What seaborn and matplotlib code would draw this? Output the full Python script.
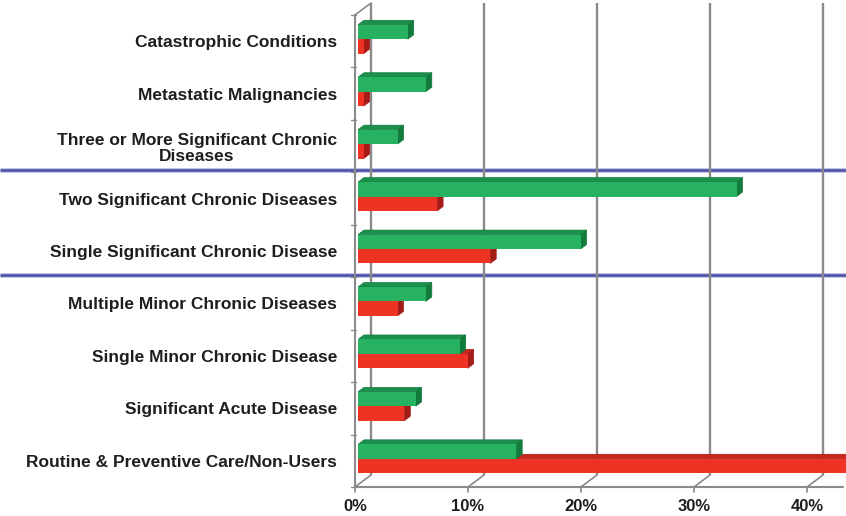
import matplotlib
matplotlib.use("Agg")
import matplotlib.pyplot as plt
import matplotlib.transforms as mtrans
from matplotlib.patches import Polygon
import seaborn as sns
import pandas as pd

# ---- data -------------------------------------------------------------
categories = [
    "Catastrophic Conditions",
    "Metastatic Malignancies",
    "Three or More Significant Chronic\nDiseases",
    "Two Significant Chronic Diseases",
    "Single Significant Chronic Disease",
    "Multiple Minor Chronic Diseases",
    "Single Minor Chronic Disease",
    "Significant Acute Disease",
    "Routine & Preventive Care/Non-Users",
]
pct_cost = [4.4, 6.0, 3.5, 33.5, 19.7, 6.0, 9.0, 5.1, 14.0]
pct_members = [0.5, 0.5, 0.5, 7.0, 11.7, 3.5, 9.7, 4.1, 46.0]
series_names = ["Share of cost", "Share of members"]
x_ticks = [0, 10, 20, 30, 40]
x_tick_labels = ["0%", "10%", "20%", "30%", "40%"]
group_breaks = [2.5, 4.5]

df = pd.DataFrame({
    "category": categories * 2,
    "series": [series_names[0]] * len(categories) + [series_names[1]] * len(categories),
    "value": pct_cost + pct_members,
})

# ---- style ------------------------------------------------------------
sns.set_theme(style="white")
plt.rcParams["font.family"] = ["Liberation Sans", "DejaVu Sans"]

GREEN, GREEN_TOP, GREEN_SIDE = "#27b262", "#1b8f4c", "#137a3d"
RED, RED_TOP, RED_SIDE = "#ee3224", "#c9261d", "#a41b18"
GRID = "#8a8a8a"
TEXT = "#1e1e1e"

W, H = 846, 516
fig = plt.figure(figsize=(W / 100, H / 100), dpi=100)

# background layer in pixel coordinates for the 3-D frame
deco = fig.add_axes([0, 0, 1, 1], zorder=0)
deco.set_xlim(0, W)
deco.set_ylim(H, 0)
deco.axis("off")

# bar plane
left, right, top, bottom = 358, 846, 13, 485
ax = fig.add_axes([left / W, (H - bottom) / H, (right - left) / W, (bottom - top) / H], zorder=1)
ax.patch.set_alpha(0)

sns.barplot(data=df, x="value", y="category", hue="series", hue_order=series_names,
            order=categories, orient="h", palette=[GREEN, RED], saturation=1,
            width=0.55, legend=False, ax=ax)

px_per_pct = 11.3
ax.set_xlim(0, (right - left) / px_per_pct)
ax.set_ylim(len(categories) - 0.5, -0.5)
ax.set_xlabel("")
ax.set_ylabel("")
for s in ax.spines.values():
    s.set_visible(False)

# ---- 3-D faces on each bar -------------------------------------------
o = ax.transData.transform((0, 0))
ppx = ax.transData.transform((1, 0))[0] - o[0]
ppy = ax.transData.transform((0, 1))[1] - o[1]
dx = 6.0 / ppx
dy = 4.5 / ppy

face_cols = [(GREEN_TOP, GREEN_SIDE), (RED_TOP, RED_SIDE)]
z_base = [4, 2]
for cont, (ctop, cside), zb in zip(ax.containers, face_cols, z_base):
    for p in cont.patches:
        p.set_zorder(zb + 0.5)
        p.set_edgecolor("none")
        x0, yt = p.get_x(), p.get_y()
        x1, yb = x0 + p.get_width(), yt + p.get_height()
        topf = Polygon([(x0, yt), (x1, yt), (x1 + dx, yt + dy), (x0 + dx, yt + dy)],
                       closed=True, facecolor=ctop, edgecolor=cside, lw=0.5, zorder=zb)
        side = Polygon([(x1, yt), (x1, yb), (x1 + dx, yb + dy), (x1 + dx, yt + dy)],
                       closed=True, facecolor=cside, edgecolor=cside, lw=0.5, zorder=zb)
        ax.add_patch(topf)
        ax.add_patch(side)

# ---- frame: front plane, back wall, floor ----------------------------
blend = mtrans.blended_transform_factory(ax.transData, ax.transAxes)


def px(xd, ya, off):
    X, Y = blend.transform((xd, ya))
    return X + off[0], H - Y + off[1]


FRONT = (-3, 2)
BACK = (13, -10)
xmax = ax.get_xlim()[1]

# back wall gridlines
for xv in x_ticks:
    (a, b), (c, d) = px(xv, 1, BACK), px(xv, 0, BACK)
    deco.plot([a, c], [b, d], color=GRID, lw=1.7, solid_capstyle="butt", zorder=3)
    # floor slant and tick
    (e, f), (g, h) = px(xv, 0, FRONT), px(xv, 0, BACK)
    deco.plot([e, g], [f, h], color=GRID, lw=1.2, zorder=3)
    deco.plot([e, e], [f, f + 5], color=GRID, lw=1.2, zorder=3)

# front vertical axis, top slant, front floor line
(a, b), (c, d) = px(0, 1, FRONT), px(0, 0, FRONT)
deco.plot([a, c], [b, d], color=GRID, lw=1.5, zorder=3)
(e, f) = px(0, 1, BACK)
deco.plot([a, e], [b, f], color=GRID, lw=1.2, zorder=3)
(g, h) = px(xmax, 0, FRONT)
deco.plot([c, g], [d, h], color=GRID, lw=1.5, zorder=3)

# row separator ticks on the front axis
for k in range(len(categories) + 1):
    yv = k / len(categories)
    (a, b) = px(0, yv, FRONT)
    deco.plot([a - 4, a + 1], [b, b], color=GRID, lw=1.0, zorder=3)

# group divider lines across the full width
for yb_ in group_breaks:
    Y = H - ax.transData.transform((0, yb_))[1]
    deco.plot([0, W], [Y, Y], color="#b9bce2", lw=3.4, solid_capstyle="butt", zorder=2)
    deco.plot([0, W], [Y, Y], color="#4a4fa6", lw=1.8, solid_capstyle="butt", zorder=2)

# ---- tick labels ------------------------------------------------------
ax.set_xticks(x_ticks)
ax.set_xticklabels(x_tick_labels)
ax.tick_params(axis="x", length=0, pad=10, labelsize=12, labelcolor=TEXT)
ax.tick_params(axis="y", length=0, pad=15, labelsize=12.5, labelcolor=TEXT)
shift_x = mtrans.ScaledTranslation(-3 / 100, 0, fig.dpi_scale_trans)
shift_y = mtrans.ScaledTranslation(0, -2 / 100, fig.dpi_scale_trans)
for lbl in ax.get_xticklabels():
    lbl.set_fontweight("bold")
    lbl.set_transform(lbl.get_transform() + shift_x)
for lbl in ax.get_yticklabels():
    lbl.set_fontweight("bold")
    lbl.set_multialignment("center")
    lbl.set_linespacing(1.12)
    lbl.set_transform(lbl.get_transform() + shift_y)

fig.savefig("out.png", dpi=100)
